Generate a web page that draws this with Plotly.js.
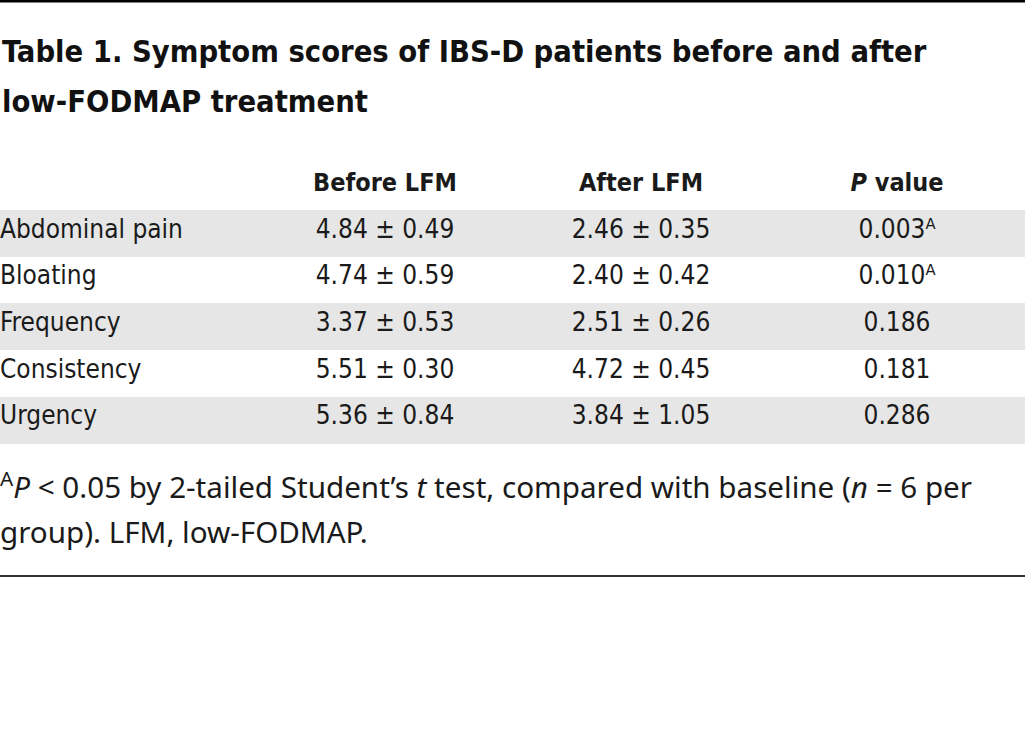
<!DOCTYPE html>
<html>
<head>
<meta charset="utf-8">
<script src="https://cdn.plot.ly/plotly-3.0.1.min.js"></script>
<style>html,body{margin:0;padding:0;background:#fff;overflow:hidden;}</style>
</head>
<body>
<div id="chart" style="width:1033px;height:749px;margin-left:-8px;"></div>
<script>
const symptoms = ["Abdominal pain", "Bloating", "Frequency", "Consistency", "Urgency"];
const beforeMean = [4.84, 4.74, 3.37, 5.51, 5.36];
const beforeSD = [0.49, 0.59, 0.53, 0.30, 0.84];
const afterMean = [2.46, 2.40, 2.51, 4.72, 3.84];
const afterSD = [0.35, 0.42, 0.26, 0.45, 1.05];
const pValues = ["0.003", "0.010", "0.186", "0.181", "0.286"];
const pSignificant = [true, true, false, false, false];
const headers = [" ", "<b>Before LFM</b>", "<b>After LFM</b>", "<b><i>P</i> value</b>"];

const W = 1033, H = 749, SHIFT = 8;
const fmt = (m, s) => m.toFixed(2) + " ± " + s.toFixed(2);
const beforeCol = beforeMean.map((m, i) => fmt(m, beforeSD[i]));
const afterCol = afterMean.map((m, i) => fmt(m, afterSD[i]));
const pCol = pValues.map((p, i) => pSignificant[i] ? p + "ᴬ" : p);
const rowFill = symptoms.map((_, i) => i % 2 === 0 ? "#e6e6e6" : "#ffffff");

const condensed = "'DejaVu Sans Condensed', 'Liberation Sans Narrow', sans-serif";
const noteFont = "'Noto Sans', sans-serif";

const trace = {
  type: "table",
  domain: {x: [0, 1], y: [1 - 470 / H, 1 - 160 / H]},
  columnwidth: [265, 256, 256, 256],
  header: {
    values: headers,
    align: ["left", "center", "center", "center"],
    height: 50,
    fill: {color: "#ffffff"},
    line: {width: 0, color: "#ffffff"},
    font: {family: condensed, size: 25, color: "#1a1a1a"}
  },
  cells: {
    values: [symptoms, beforeCol, afterCol, pCol],
    align: ["left", "center", "center", "center"],
    height: 46.7,
    fill: {color: [rowFill, rowFill, rowFill, rowFill]},
    line: {width: 0, color: [rowFill, rowFill, rowFill, rowFill]},
    font: {family: condensed, size: 26, color: "#1a1a1a"}
  }
};

const layout = {
  width: W, height: H,
  margin: {l: 0, r: 0, t: 0, b: 0},
  paper_bgcolor: "#ffffff",
  showlegend: false,
  annotations: [
    {text: "<b>Table 1. Symptom scores of IBS-D patients before and after</b>", xref: "paper", yref: "paper",
     x: 0, xshift: SHIFT, y: 1 - 52 / H, xanchor: "left", yanchor: "middle", showarrow: false,
     font: {family: condensed, size: 30.6, color: "#111"}},
    {text: "<b>low-FODMAP treatment</b>", xref: "paper", yref: "paper",
     x: 0, xshift: SHIFT, y: 1 - 102 / H, xanchor: "left", yanchor: "middle", showarrow: false,
     font: {family: condensed, size: 30.6, color: "#111"}},
    {text: "<sup>A</sup><i>P</i> &lt; 0.05 by 2-tailed Student’s <i>t</i> test, compared with baseline (<i>n</i> = 6 per", xref: "paper", yref: "paper",
     x: 0, xshift: SHIFT - 2, y: 1 - 485 / H, xanchor: "left", yanchor: "middle", showarrow: false,
     font: {family: noteFont, size: 29.6, color: "#1a1a1a"}},
    {text: "group). LFM, low-FODMAP.", xref: "paper", yref: "paper",
     x: 0, xshift: SHIFT - 2, y: 1 - 531 / H, xanchor: "left", yanchor: "middle", showarrow: false,
     font: {family: noteFont, size: 29.6, color: "#1a1a1a"}}
  ],
  shapes: [
    {type: "line", xref: "paper", yref: "paper", x0: 0, x1: 1, y0: 1 - 1 / H, y1: 1 - 1 / H, line: {color: "#000", width: 3}},
    {type: "line", xref: "paper", yref: "paper", x0: 0, x1: 1, y0: 1 - 576 / H, y1: 1 - 576 / H, line: {color: "#333", width: 2}}
  ]
};

Plotly.newPlot("chart", [trace], layout, {displayModeBar: false, staticPlot: true});
</script>
</body>
</html>
